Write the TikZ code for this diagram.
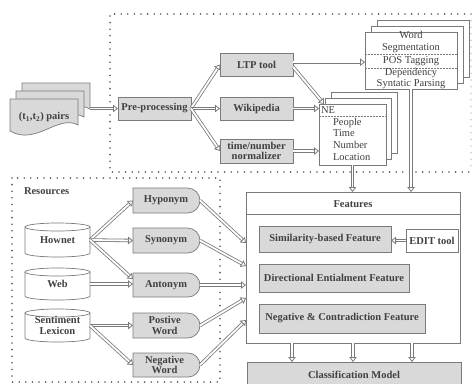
\documentclass[tikz,border=0pt]{standalone}
\usepackage{fontspec}
\setmainfont{Liberation Serif}
\usetikzlibrary{arrows.meta,calc,backgrounds,shapes.misc}
\definecolor{bfill}{HTML}{D9D9D9}
\definecolor{bline}{HTML}{7A7A7A}
\definecolor{txt}{HTML}{404040}
\definecolor{dotc}{HTML}{5A5A5A}
\newcommand\fsz{\fontsize{10.5}{11.2}\selectfont}
\tikzset{
  every node/.style={inner sep=0pt, outer sep=0pt, text=txt},
  gbox/.style={draw=bline, fill=bfill, line width=0.7pt, font=\fsz\bfseries, align=center, anchor=north west},
  wbox/.style={gbox, fill=white},
  dbox/.style={rounded rectangle, rounded rectangle west arc=none, draw=bline, fill=bfill, line width=0.7pt, font=\fsz\bfseries, align=center, minimum width=67pt, minimum height=25pt, anchor=north west},
  plain/.style={font=\fsz, align=center},
  plainb/.style={font=\fsz\bfseries, align=center},
  cylst/.style={draw=bline, fill=white, line width=0.7pt},
  docst/.style={draw=bline, fill=bfill, line width=0.7pt},
  dline/.style={draw=bline, line width=0.6pt, dash pattern=on 1.5pt off 1.5pt},
  dotbox/.style={draw=dotc, line width=1.8pt, dash pattern=on 0pt off 6.6pt, line cap=round},
  arr/.style={draw=bline, double=white, double distance=1.8pt, line width=0.8pt, -{Triangle[open, length=5pt, width=7.5pt]}},
}
\newcommand\drawcyl[1]{%
  \begin{pgfonlayer}{background}
  \filldraw[cylst] ($(#1.north west)+(0,-4pt)$) -- ($(#1.south west)+(0,4pt)$)
     arc[start angle=180, end angle=360, x radius=32.5pt, y radius=4pt]
     -- ($(#1.north east)+(0,-4pt)$) -- cycle;
  \filldraw[cylst] ($(#1.north)+(0,-4pt)$) ellipse[x radius=32.5pt, y radius=4pt];
  \end{pgfonlayer}}
\begin{document}
\begin{tikzpicture}[x=1pt,y=-1pt]
\useasboundingbox (0,0) rectangle (473,383);
\clip (0,0) rectangle (473,383);

% dotted frames
\draw[dotbox] (471,14) -- (110,14) -- (110,172) -- (471,172);
\draw[dotbox, draw=dotc!30] (471,14) -- (471,172);
\draw[dotbox] (12,178) rectangle (220,382);

% documents
\foreach \dx/\dy in {12/-16, 6/-8, 0/0} {
  \filldraw[docst, shift={(\dx,\dy)}] (10,99) -- (78,99) -- (78,125)
     .. controls (58,114) and (36,146) .. (10,131) -- cycle;
}
\node[plainb] (pairs) at (44,117) {(t\textsubscript{1},t\textsubscript{2}) pairs};
\coordinate (docr) at (90,108.5);

% preprocessing
\node[gbox, minimum width=73pt, minimum height=23pt] (pre) at (118,97) {Pre-processing};
\node[gbox, minimum width=73pt, minimum height=23pt] (ltp) at (220,53) {LTP tool};
\node[gbox, minimum width=73pt, minimum height=23pt] (wiki) at (220,97) {Wikipedia};
\node[gbox, minimum width=73pt, minimum height=24pt] (tnorm) at (220,139) {time/number\\[-1pt]normalizer};

% word segmentation stack
\node[wbox, minimum width=92pt, minimum height=57pt] (ws3) at (377,20) {};
\node[wbox, minimum width=92pt, minimum height=57pt] (ws2) at (371,26) {};
\node[wbox, minimum width=92pt, minimum height=57pt] (ws1) at (365,32) {};
\draw[dline] ($(ws1.north west)+(0,22)$) -- ($(ws1.north east)+(0,22)$);
\draw[dline] ($(ws1.north west)+(0,36)$) -- ($(ws1.north east)+(0,36)$);
\node[plain] (wsa) at (411,42) {Word\\Segmentation};
\node[plain] (wsb) at (411,61) {POS Tagging};
\node[plain] (wsc) at (411,78.5) {Dependency\\Syntatic Parsing};

% NE stack
\node[wbox, minimum width=66pt, minimum height=61pt] (ne3) at (331,92) {};
\node[wbox, minimum width=66pt, minimum height=61pt] (ne2) at (325,98) {};
\node[wbox, minimum width=67pt, minimum height=61pt] (ne1) at (319,104) {};
\draw[dline] ($(ne1.north west)+(0,12)$) -- ($(ne1.north east)+(0,12)$);
\node[plain, anchor=west] (nea) at (321,110) {NE};
\node[plain, anchor=north west, align=left, font=\fontsize{10.5}{11.7}\selectfont] (neb) at (333,118) {People\\Time\\Number\\Location};

% features
\node[wbox, minimum width=214pt, minimum height=151pt] (feat) at (246,192) {};
\draw[draw=bline, line width=0.7pt] ($(feat.north west)+(0,22)$) -- ($(feat.north east)+(0,22)$);
\node[plainb] (feath) at (353,204) {Features};
\node[gbox, minimum width=132pt, minimum height=26pt] (sim) at (259,226) {Similarity-based Feature};
\node[wbox, minimum width=52pt, minimum height=23pt] (edit) at (406,229) {EDIT tool};
\node[gbox, minimum width=150pt, minimum height=28pt] (dir) at (259,264) {Directional Entialment Feature};
\node[gbox, minimum width=166pt, minimum height=29pt] (neg) at (259,304) {Negative \& Contradiction Feature};
\node[gbox, minimum width=214pt, minimum height=26pt] (cls) at (247,362) {Classification Model};

% resources
\node[plainb, anchor=west] (res) at (24,191) {Resources};
\node[plainb, anchor=north west, minimum width=65pt, minimum height=34pt] (hownet) at (25,223) {Hownet};
\node[plainb, anchor=north west, minimum width=65pt, minimum height=32pt] (web) at (25,268) {Web};
\node[plainb, anchor=north west, minimum width=65pt, minimum height=33pt] (senti) at (25,309) {Sentiment\\[-1pt]Lexicon};
\drawcyl{hownet}
\drawcyl{web}
\drawcyl{senti}
\node[dbox] (hypo) at (133,188) {Hyponym};
\node[dbox] (syn) at (133,228) {Synonym};
\node[dbox, minimum height=24pt] (ant) at (133,273) {Antonym};
\node[dbox] (pos) at (133,313) {Postive\\[-1pt]Word};
\node[dbox, minimum height=24pt] (negw) at (133,353) {Negative\\[-1pt]Word};

% connectors
\draw[arr] (docr) -- (pre.west);
\draw[arr] (pre.east) -- (ltp.west);
\draw[arr] (pre.east) -- (wiki.west);
\draw[arr] (pre.east) -- (tnorm.west);
\coordinate (ltpa) at ($(ltp.north east)!0.4!(ltp.south east)$);
\draw[arr] (ltpa) -- (ltpa -| ws1.west);
\draw[arr] ($(ltp.north east)!0.6!(ltp.south east)$) -- ([xshift=5pt]ne1.north west);
\draw[arr] (wiki.east) -- (wiki.east -| ne1.west);
\draw[arr] (tnorm.east) -- (tnorm.east -| ne1.west);
\draw[arr] (ne1.south) -- (ne1.south |- feat.north);
\draw[arr] (ws1.south) -- (ws1.south |- feat.north);
\draw[arr] (edit.west) -- (edit.west -| sim.east);
\foreach \dx in {-61,0,59} {
  \draw[arr] ([xshift=\dx pt]feat.south) -- ([xshift=\dx pt]feat.south |- cls.north);
}
\draw[arr] (hownet.east) -- (hypo.west);
\draw[arr] (hownet.east) -- (syn.west);
\draw[arr] (hownet.east) -- ([yshift=6pt]ant.west);
\draw[arr] (web.east) -- (web.east -| ant.west);
\draw[arr] (senti.east) -- (pos.west);
\draw[arr] (senti.east) -- (negw.west);
\draw[arr] (hypo.east) -- ($(feat.north west)+(0,51)$);
\draw[arr] (syn.east) -- ($(feat.north west)+(0,74)$);
\draw[arr] (ant.east) -- ($(feat.north west)+(0,93)$);
\draw[arr] (pos.east) -- ($(feat.north west)+(0,106)$);
\draw[arr] (negw.east) -- ($(feat.north west)+(0,128)$);
\end{tikzpicture}
\end{document}
